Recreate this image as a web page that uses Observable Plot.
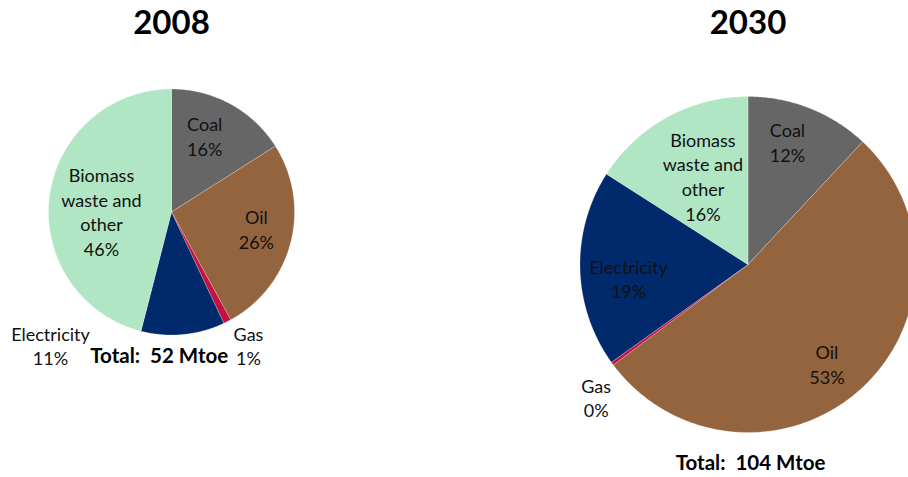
<!DOCTYPE html>
<html><head><meta charset="utf-8">
<script src="https://cdn.jsdelivr.net/npm/d3@7"></script>
<script src="https://cdn.jsdelivr.net/npm/@observablehq/plot@0.6"></script>
<style>html,body{margin:0;padding:0;background:#fff;overflow:hidden}</style>
</head><body><div id="chart"></div>
<script>
// ---- data ----
const categories = ["Coal", "Oil", "Gas", "Electricity", "Biomass waste and other"];
const labelNames = ["Coal", "Oil", "Gas", "Electricity", "Biomass\nwaste and\nother"];
const years = ["2008", "2030"];
const values2008 = [16, 26, 1, 11, 46];
const values2030 = [12, 53, 0.3, 19, 16];
const pctLabels2008 = ["16%", "26%", "1%", "11%", "46%"];
const pctLabels2030 = ["12%", "53%", "0%", "19%", "16%"];
const totalLabels = ["Total:\u00a0 52 Mtoe", "Total:\u00a0 104 Mtoe"];
const colors = ["#666666", "#94643e", "#c3123f", "#002a6b", "#b0e6c3"];

// ---- layout (chart geometry, not data) ----
const pies = [{cx: 171, cy: 211.5, r: 123}, {cx: 747.5, cy: 264, r: 168}];
const labelOffsets = [
  [[0.27, -0.62], [0.69, 0.134], [0.626, 1.081], [-0.984, 1.081], [-0.569, -0.008]],
  [[0.235, -0.73], [0.47, 0.591], [-0.904, 0.79], [-0.711, 0.082], [-0.268, -0.529]]
];
const totalOffsets = [[-0.1, 1.174], [0.015, 1.185]];
const titleY = 23;

const allValues = [values2008, values2030];
const allPct = [pctLabels2008, pctLabels2030];

// slice polygons from d3.pie angles
const slicePts = [];
const labels = [];
const titles = [];
const totals = [];
allValues.forEach((vals, p) => {
  const {cx, cy, r} = pies[p];
  const arcs = d3.pie().sort(null).value(d => d)(vals);
  arcs.forEach((a, i) => {
    const key = years[p] + "-" + categories[i];
    slicePts.push({key, cat: categories[i], x: cx, y: cy});
    const n = Math.max(2, Math.ceil((a.endAngle - a.startAngle) / 0.01));
    for (let k = 0; k <= n; k++) {
      const t = a.startAngle + (a.endAngle - a.startAngle) * k / n;
      slicePts.push({key, cat: categories[i], x: cx + r * Math.sin(t), y: cy - r * Math.cos(t)});
    }
    slicePts.push({key, cat: categories[i], x: cx, y: cy});
    const [dx, dy] = labelOffsets[p][i];
    labels.push({x: cx + dx * r, y: cy + dy * r, text: labelNames[i] + "\n" + allPct[p][i]});
  });
  titles.push({x: cx, y: titleY, text: years[p]});
  totals.push({x: cx + totalOffsets[p][0] * r, y: cy + totalOffsets[p][1] * r, text: totalLabels[p]});
});

const font = "Lato, 'Open Sans', sans-serif";
const chart = Plot.plot({
  width: 908, height: 477,
  margin: 0,
  x: {domain: [0, 908], range: [0, 908], axis: null},
  y: {domain: [0, 477], range: [0, 477], axis: null},
  color: {domain: categories, range: colors},
  style: {fontFamily: font, background: "#fff", overflow: "hidden"},
  marks: [
    Plot.line(slicePts, {x: "x", y: "y", z: "key", fill: "cat", stroke: "white", strokeWidth: 0.4, strokeOpacity: 0.6}),
    Plot.text(labels, {x: "x", y: "y", text: "text", fontSize: 18, lineHeight: 1.37, fill: "#111", fontFamily: font}),
    Plot.text(titles, {x: "x", y: "y", text: "text", fontSize: 33, fontWeight: "bold", fill: "#000", fontFamily: font}),
    Plot.text(totals, {x: "x", y: "y", text: "text", fontSize: 20.5, fontWeight: "bold", fill: "#000", fontFamily: font})
  ]
});
document.getElementById("chart").appendChild(chart);
</script>
</body></html>
